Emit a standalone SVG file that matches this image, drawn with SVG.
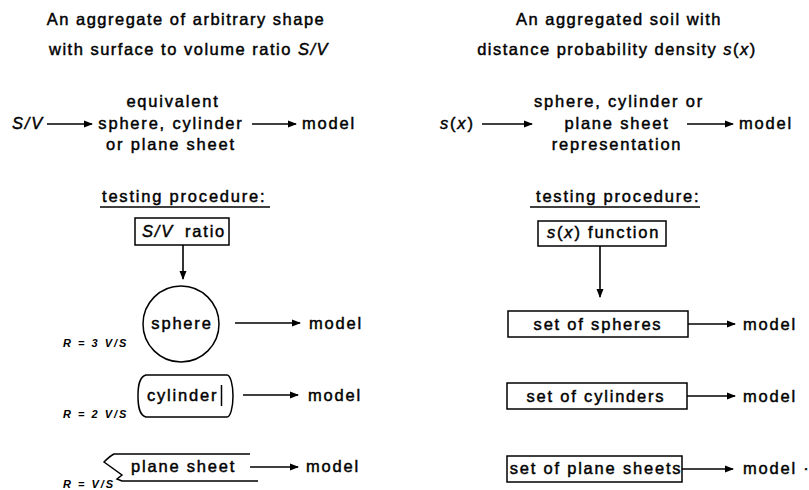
<svg xmlns="http://www.w3.org/2000/svg" width="809" height="490" viewBox="0 0 809 490">
<defs>
  <marker id="head" markerWidth="9" markerHeight="8" refX="8" refY="4" orient="auto" markerUnits="userSpaceOnUse">
    <path d="M0,0.5 L9,4 L0,7.5 z" fill="#000"/>
  </marker>
</defs>
<style>
  text { font-family: "Liberation Sans", Arial, Helvetica, sans-serif; font-size: 16.5px; fill: #000; letter-spacing: 1.8px; stroke: #000; stroke-width: 0.45px; }
  .t { letter-spacing: 1.5px; }
  .m { text-anchor: middle; }
  .i { font-style: italic; }
  .r { font-size: 11px; font-weight: bold; font-style: italic; letter-spacing: 2px; stroke: none; }
  .ln { fill: none; stroke: #000; stroke-width: 1.5; }
  .box { fill: #fff; stroke: #000; stroke-width: 1.5; }
  .arr { fill: none; stroke: #000; stroke-width: 1.6; marker-end: url(#head); }
</style>
<rect width="809" height="490" fill="#fff"/>

<!-- left column: aggregate of arbitrary shape -->
<g id="title-left">
  <text class="t m" x="186" y="25">An aggregate of arbitrary shape</text>
  <text class="t m" x="189" y="55">with surface to volume ratio <tspan class="i">S/V</tspan></text>
</g>
<g id="sv-input"><text class="i" x="12" y="129">S/V</text></g>
<g id="equivalent">
  <text class="m" x="173" y="107">equivalent</text>
  <text class="m" x="171" y="129">sphere, cylinder</text>
  <text class="m" x="171" y="150">or plane sheet</text>
</g>
<g id="model-top-left"><text x="302" y="129">model</text></g>
<g id="testing-left">
  <text x="102" y="202">testing procedure:</text>
  <line class="ln" x1="100" y1="207" x2="270" y2="207"/>
</g>
<g id="sv-ratio">
  <rect class="box" x="135" y="218" width="94" height="27"/>
  <text class="i" x="142" y="237">S/V</text>
  <text x="185" y="237">ratio</text>
</g>
<g id="sphere">
  <circle class="ln" cx="181" cy="324" r="38"/>
  <text class="m" x="182" y="329">sphere</text>
  <text class="r" x="63" y="347">R = 3 V/S</text>
</g>
<g id="cylinder">
  <path class="ln" d="M227,375 L146,375 C139,377 138,386 138,396 C138,406 139,415 146,417 L227,417"/>
  <path class="ln" d="M227,375 A6,21 0 0 1 227,417"/>
  <line class="ln" x1="221.5" y1="385" x2="221.5" y2="406"/>
  <text x="147" y="401">cylinder</text>
  <text class="r" x="63" y="418">R = 2 V/S</text>
</g>
<g id="plane-sheet">
  <path class="ln" d="M250,454 L114,454 C110,456 107,459 104,462 L122,475 L117,479 L122,481 L258,481"/>
  <text x="131" y="472">plane sheet</text>
  <text class="r" x="63" y="488">R = V/S</text>
</g>
<g id="model-sphere"><text x="309" y="329">model</text></g>
<g id="model-cylinder"><text x="308" y="401">model</text></g>
<g id="model-plane"><text x="306" y="472">model</text></g>

<!-- right column: aggregated soil -->
<g id="title-right">
  <text class="t m" x="619" y="25">An aggregated soil with</text>
  <text class="t m" x="617" y="55">distance probability density <tspan class="i">s</tspan>(<tspan class="i">x</tspan>)</text>
</g>
<g id="sx-input"><text x="440" y="129"><tspan class="i">s</tspan>(<tspan class="i">x</tspan>)</text></g>
<g id="representation">
  <text class="m" x="619" y="107">sphere, cylinder or</text>
  <text class="m" x="617" y="129">plane sheet</text>
  <text class="m" x="617" y="150">representation</text>
</g>
<g id="model-top-right"><text x="739" y="129">model</text></g>
<g id="testing-right">
  <text x="536" y="202">testing procedure:</text>
  <line class="ln" x1="530" y1="207" x2="700" y2="207"/>
</g>
<g id="sx-function">
  <rect class="box" x="538" y="221" width="128" height="25"/>
  <text x="547" y="238"><tspan class="i">s</tspan>(<tspan class="i">x</tspan>)</text>
  <text x="588" y="238">function</text>
</g>
<g id="set-spheres">
  <rect class="box" x="508" y="311" width="180" height="26"/>
  <text class="m" x="598" y="330">set of spheres</text>
</g>
<g id="set-cylinders">
  <rect class="box" x="507" y="383" width="180" height="26"/>
  <text class="m" x="596" y="402">set of cylinders</text>
</g>
<g id="set-plane-sheets">
  <rect class="box" x="507" y="456" width="175" height="26"/>
  <text class="m" x="596" y="474">set of plane sheets</text>
</g>
<g id="model-spheres"><text x="743" y="330">model</text></g>
<g id="model-cylinders"><text x="743" y="402">model</text></g>
<g id="model-plane-sheets"><text x="743" y="474">model ·</text></g>

<!-- connectors -->
<g id="connectors">
  <line class="arr" x1="47" y1="124" x2="92" y2="124"/>
  <line class="arr" x1="252" y1="124" x2="296" y2="124"/>
  <line class="arr" x1="183" y1="245" x2="183" y2="279"/>
  <line class="arr" x1="235" y1="323" x2="300" y2="323"/>
  <line class="arr" x1="243" y1="395" x2="298" y2="395"/>
  <line class="arr" x1="250" y1="467" x2="298" y2="467"/>
  <line class="arr" x1="482" y1="124" x2="532" y2="124"/>
  <line class="arr" x1="687" y1="124" x2="733" y2="124"/>
  <line class="arr" x1="600" y1="246" x2="600" y2="297"/>
  <line class="arr" x1="688" y1="324" x2="735" y2="324"/>
  <line class="arr" x1="687" y1="396" x2="735" y2="396"/>
  <line class="arr" x1="682" y1="469" x2="733" y2="469"/>
</g>
</svg>
